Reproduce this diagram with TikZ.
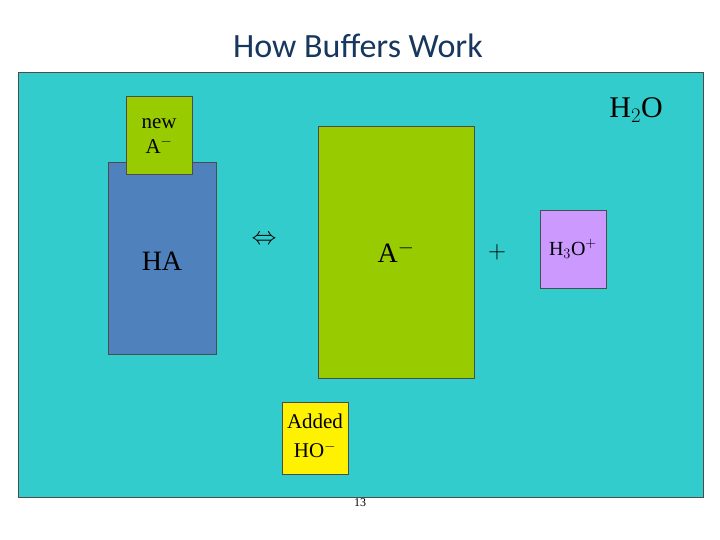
\documentclass[tikz,border=0pt]{standalone}
\usepackage{fontspec}
\setmainfont{Liberation Serif}
\newfontfamily\titlefont{Carlito}
\begin{document}
\begin{tikzpicture}[x=1pt,y=-1pt,
  box/.style={draw=black!70,line width=0.6pt,anchor=north west,inner sep=0pt},
  lbl/.style={inner sep=0pt,align=center,text=black}]
\useasboundingbox (0,0) rectangle (720,540);
\node[font=\titlefont\fontsize{34}{36}\selectfont,text={rgb,255:red,23;green,55;blue,94}] (title) at (358,46) {How Buffers Work};
\node[box,fill={rgb,255:red,51;green,204;blue,204},minimum width=685,minimum height=425] (bg) at (18,72) {};
\node[box,fill={rgb,255:red,79;green,129;blue,189},minimum width=108,minimum height=192] (ha) at (108,162) {};
\node[box,fill={rgb,255:red,153;green,204;blue,0},minimum width=66,minimum height=78] (newa) at (126,96) {};
\node[box,fill={rgb,255:red,153;green,204;blue,0},minimum width=156,minimum height=252] (ab) at (318,126) {};
\node[box,fill={rgb,255:red,204;green,153;blue,255},minimum width=66,minimum height=78] (h3o) at (540,210) {};
\node[box,fill=yellow,minimum width=66,minimum height=72] (oh) at (282,402) {};
\node[lbl,font=\fontsize{21}{25}\selectfont] (newt) at (159,136) {new\\A$^{-}$};
\node[lbl,font=\fontsize{30}{32}\selectfont] (h2o) at (636,110) {H$_2$O};
\node[lbl,font=\fontsize{28}{30}\selectfont] (hat) at (162,261) {HA};
\node[lbl,font=\fontsize{28}{30}\selectfont] (at) at (396,252) {A$^{-}$};
\node[lbl,font=\fontsize{34}{34}\selectfont] (plus) at (497,252) {$+$};
\node[lbl,font=\fontsize{34}{34}\selectfont] (arr) at (264,240) {$\Leftrightarrow$};
\node[lbl,font=\fontsize{20}{24}\selectfont] (h3t) at (573,249) {H$_3$O$^{+}$};
\node[lbl,font=\fontsize{21}{29}\selectfont] (oht) at (315,436) {Added\\HO$^{-}$};
\node[lbl,font=\fontsize{12}{14}\selectfont] (pg) at (360,503) {13};
\end{tikzpicture}
\end{document}
